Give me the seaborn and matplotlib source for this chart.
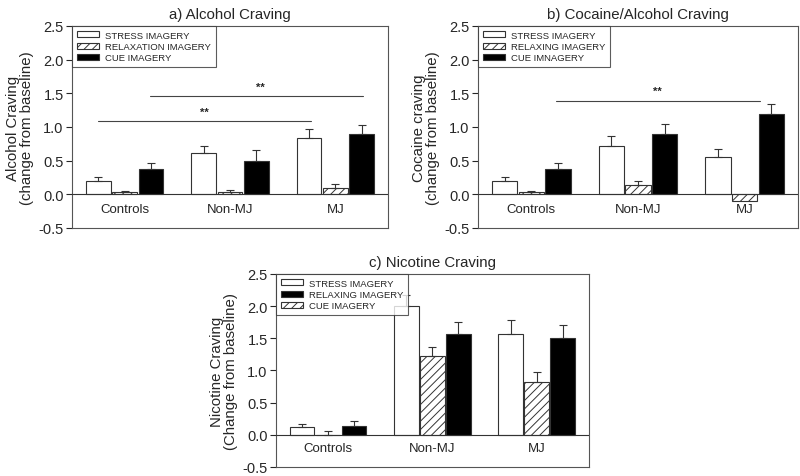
import numpy as np
import pandas as pd
import matplotlib
matplotlib.use('Agg')
import matplotlib.pyplot as plt
import seaborn as sns
from matplotlib.patches import Patch

sns.set_style('ticks')
plt.rcParams['font.family'] = ['Liberation Sans', 'DejaVu Sans']
plt.rcParams['hatch.linewidth'] = 0.7

# Data
groups = ['Controls', 'Non-MJ', 'MJ']
conds = ['c1', 'c2', 'c3']   # bar order within a group: white, hatched, black

alc_vals = [[0.20, 0.61, 0.83], [0.03, 0.04, 0.10], [0.38, 0.50, 0.90]]
alc_err = [[0.06, 0.11, 0.14], [0.02, 0.03, 0.06], [0.09, 0.16, 0.13]]
alc_labels = ['STRESS IMAGERY', 'RELAXATION IMAGERY', 'CUE IMAGERY']

coc_vals = [[0.20, 0.72, 0.55], [0.03, 0.14, -0.10], [0.38, 0.90, 1.19]]
coc_err = [[0.06, 0.14, 0.12], [0.02, 0.05, 0.0], [0.09, 0.15, 0.15]]
coc_labels = ['STRESS IMAGERY', 'RELAXING IMAGERY', 'CUE IMNAGERY']

nic_vals = [[0.12, 2.00, 1.56], [0.0, 1.23, 0.82], [0.14, 1.57, 1.50]]
nic_err = [[0.04, 0.18, 0.23], [0.06, 0.13, 0.15], [0.08, 0.19, 0.20]]
# legend in panel c lists black before hatched
nic_labels = ['STRESS IMAGERY', 'CUE IMAGERY', 'RELAXING IMAGERY']
nic_legend_order = [0, 2, 1]

yticks = [-0.5, 0.0, 0.5, 1.0, 1.5, 2.0, 2.5]
ytick_labels = ['-0.5', '0.0', '0.5', '1.0', '1.5', '2.0', '2.5']

# significance brackets: (x0, x1, y, star_x, star_y)
alc_sig = [(-0.25, 1.77, 1.09, 0.76, 1.22), (0.245, 2.26, 1.46, 1.29, 1.60)]
coc_sig = [(0.23, 2.14, 1.39, 1.18, 1.53)]
nic_sig = []

colors = ['white', 'white', 'black']
hatches = ['', '////', '']
edge = '#333333'


def panel(ax, vals, errs, labels, title, ylabel, sig, legend_order=(0, 1, 2)):
    rows = []
    for ci, c in enumerate(conds):
        for gi, g in enumerate(groups):
            rows.append({'group': g, 'cond': c, 'value': vals[ci][gi]})
    df = pd.DataFrame(rows)
    sns.barplot(data=df, x='group', y='value', hue='cond', order=groups,
                hue_order=conds, palette=colors, width=0.75, gap=0.06,
                edgecolor=edge, linewidth=0.8, legend=False, errorbar=None, ax=ax)
    bar_conts = list(ax.containers)
    for ci, cont in enumerate(bar_conts):
        for gi, bar in enumerate(cont):
            bar.set_hatch(hatches[ci])
            e = errs[ci][gi]
            if e > 0:
                x = bar.get_x() + bar.get_width() / 2
                h = max(vals[ci][gi], 0)
                ax.errorbar(x, h, yerr=[[0], [e]], fmt='none', ecolor=edge,
                            elinewidth=0.8, capsize=3, capthick=0.8, zorder=1)
    ax.axhline(0, color=edge, lw=0.8, zorder=3)
    for x0, x1, y, sx, sy in sig:
        ax.plot([x0, x1], [y, y], color='#444444', lw=0.8)
        ax.text(sx, sy, '**', ha='center', va='center', fontsize=8, fontweight='bold')
    ax.set_xlim(-0.5, 2.5)
    ax.set_ylim(-0.5, 2.5)
    ax.set_yticks(yticks)
    ax.set_yticklabels(ytick_labels, fontsize=10.5)
    ax.tick_params(axis='y', direction='out', length=4, width=0.8, pad=2)
    ax.tick_params(axis='x', length=0, pad=-18, labelsize=9.5)
    ax.set_xlabel('')
    ax.set_ylabel(ylabel, fontsize=10.8, labelpad=3, linespacing=1.05)
    ax.set_title(title, fontsize=10.8, pad=6)
    for s in ax.spines.values():
        s.set_visible(True)
        s.set_linewidth(0.8)
        s.set_color('#555555')
    handles = [Patch(facecolor=colors[i], edgecolor=edge, hatch=hatches[i], lw=0.8,
                     label=labels[i]) for i in legend_order]
    leg = ax.legend(handles=handles, loc='upper left', borderaxespad=0,
                    fontsize=6.8, frameon=True, fancybox=False, handlelength=2.4,
                    handleheight=0.55, handletextpad=0.6, labelspacing=0.25,
                    borderpad=0.5)
    leg.get_frame().set_edgecolor('#333333')
    leg.get_frame().set_linewidth(0.8)
    leg.set_zorder(10)


fig = plt.figure(figsize=(8, 4.77), dpi=100)
ax_a = fig.add_axes([0.09, 0.520, 0.395, 0.4235])
ax_b = fig.add_axes([0.5975, 0.520, 0.40, 0.4235])
ax_c = fig.add_axes([0.345, 0.019, 0.391, 0.4046])

panel(ax_a, alc_vals, alc_err, alc_labels, 'a) Alcohol Craving',
      'Alcohol Craving\n(change from baseline)', alc_sig)
panel(ax_b, coc_vals, coc_err, coc_labels, 'b) Cocaine/Alcohol Craving',
      'Cocaine craving\n(change from baseline)', coc_sig)
panel(ax_c, nic_vals, nic_err, nic_labels, 'c) Nicotine Craving',
      'Nicotine Craving\n(Change from baseline)', nic_sig, nic_legend_order)

fig.savefig('out.png', dpi=100)
